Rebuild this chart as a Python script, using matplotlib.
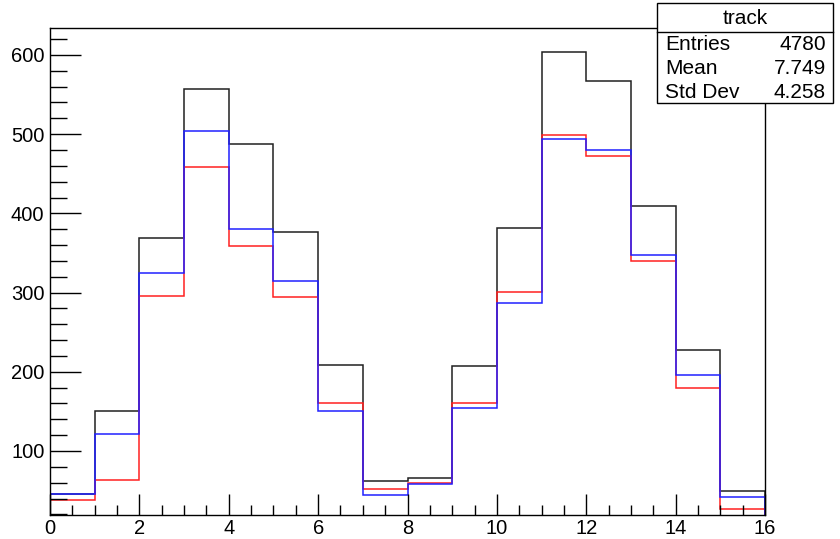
import numpy as np
import matplotlib
matplotlib.use("Agg")
import matplotlib.pyplot as plt
from matplotlib.patches import Rectangle
from matplotlib.lines import Line2D
from matplotlib.ticker import MultipleLocator

plt.rcParams['font.family'] = ['Liberation Sans', 'DejaVu Sans']

# Bin edges and per-bin counts for the three histograms
bin_edges = np.arange(0, 17, 1)
track_counts = [46, 151, 369, 557, 487, 377, 209, 62, 66, 207, 382, 604, 567, 409, 227, 49]
red_counts = [38, 64, 296, 459, 359, 294, 160, 52, 59, 161, 301, 499, 472, 340, 180, 27]
blue_counts = [46, 122, 325, 504, 380, 314, 151, 44, 58, 154, 287, 494, 480, 347, 196, 42]

# Statistics panel contents
stats_title = "track"
stats_labels = ["Entries", "Mean", "Std Dev"]
stats_values = ["4780", "7.749", "4.258"]

W, H = 840, 539
fig = plt.figure(figsize=(W / 100, H / 100), dpi=100)
L, R, T, B = 50, 765, 28, 515
ax = fig.add_axes([L / W, 1 - B / H, (R - L) / W, (B - T) / H])

lw = 1.1
ax.stairs(track_counts, bin_edges, color="#202020", linewidth=lw, baseline=0)
ax.stairs(red_counts, bin_edges, color="#ff2020", linewidth=lw, baseline=0)
ax.stairs(blue_counts, bin_edges, color="#2020ff", linewidth=lw, baseline=0)

ax.set_xlim(0, 16)
ax.set_ylim(19.2, 634)

ax.xaxis.set_major_locator(MultipleLocator(2))
ax.xaxis.set_minor_locator(MultipleLocator(0.5))
ax.yaxis.set_major_locator(MultipleLocator(100))
ax.yaxis.set_minor_locator(MultipleLocator(20))

fs = 14.5
ax.tick_params(axis="x", which="major", direction="in", length=15, width=1, pad=3, labelsize=fs)
ax.tick_params(axis="x", which="minor", direction="in", length=7.5, width=1)
ax.tick_params(axis="y", which="major", direction="in", length=22, width=1, pad=4, labelsize=fs)
ax.tick_params(axis="y", which="minor", direction="in", length=12, width=1)
ax.tick_params(top=False, right=False, which="both")

for s in ax.spines.values():
    s.set_linewidth(1)
    s.set_color("black")

# Statistics panel in the upper right corner
def fx(px):
    return px / W

def fy(py):
    return 1 - py / H

bx0, bx1, by0, by1 = 657, 833, 3, 103
fig.add_artist(Rectangle((fx(bx0), fy(by1)), fx(bx1) - fx(bx0), fy(by0) - fy(by1),
                         transform=fig.transFigure, facecolor="white",
                         edgecolor="black", linewidth=1, zorder=5))
fig.add_artist(Line2D([fx(bx0), fx(bx1)], [fy(31.5), fy(31.5)],
                      transform=fig.transFigure, color="black", linewidth=1, zorder=6))
sfs = 15
fig.text(fx(745), fy(18), stats_title, ha="center", va="center", fontsize=sfs, zorder=7)
row_y = [44, 68, 92]
for ly, lab, val in zip(row_y, stats_labels, stats_values):
    fig.text(fx(665), fy(ly), lab, ha="left", va="center", fontsize=sfs, zorder=7)
    fig.text(fx(826), fy(ly), val, ha="right", va="center", fontsize=sfs, zorder=7)

fig.savefig("out.png", dpi=100, facecolor="white")
